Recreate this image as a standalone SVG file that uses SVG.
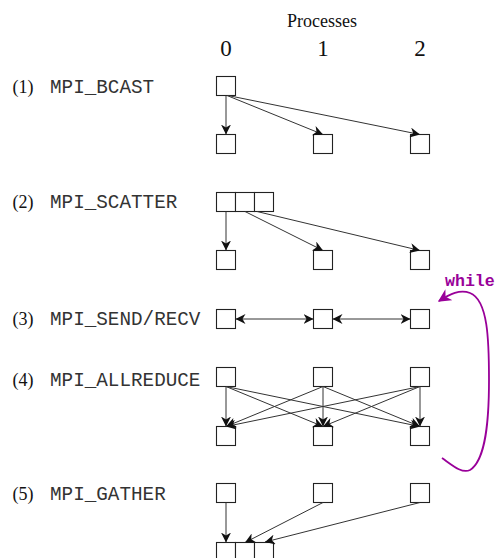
<svg xmlns="http://www.w3.org/2000/svg" width="496" height="558" viewBox="0 0 496 558">
<style>
.box{fill:#fff;stroke:#222;stroke-width:1.1}
.ser{font-family:"Liberation Serif","Times New Roman",serif;fill:#111}
.mono{font-family:"Liberation Mono","Courier New",monospace;font-size:19.3px;fill:#333}
.lbl{font-size:18px}
.e{fill:none;stroke:#333;stroke-width:1;marker-end:url(#ah)}
.d{marker-start:url(#ahs)}
</style>
<defs>
<marker id="ah" viewBox="0 0 10 10" refX="10" refY="5" markerWidth="10" markerHeight="10" markerUnits="userSpaceOnUse" orient="auto"><path d="M0,0 L10,5 L0,10 L3,5 z" fill="#111"/></marker>
<marker id="ahs" viewBox="0 0 10 10" refX="10" refY="5" markerWidth="10" markerHeight="10" markerUnits="userSpaceOnUse" orient="auto-start-reverse"><path d="M0,0 L10,5 L0,10 L3,5 z" fill="#111"/></marker>
<marker id="ahp" viewBox="0 0 10 10" refX="9" refY="5" markerWidth="13" markerHeight="13" markerUnits="userSpaceOnUse" orient="auto"><path d="M0,0 L10,5 L0,10 L3,5 z" fill="#990099"/></marker>
</defs>

<g id="header">
<text class="ser" x="322" y="27" font-size="18" text-anchor="middle">Processes</text>
<text class="ser" x="226" y="55.5" font-size="23" text-anchor="middle">0</text>
<text class="ser" x="323" y="55.5" font-size="23" text-anchor="middle">1</text>
<text class="ser" x="420" y="55.5" font-size="23" text-anchor="middle">2</text>
</g>

<g id="labels">
<text class="ser lbl" x="12.5" y="93">(1)</text><text class="mono" x="50" y="93">MPI_BCAST</text>
<text class="ser lbl" x="12.5" y="208">(2)</text><text class="mono" x="50" y="208">MPI_SCATTER</text>
<text class="ser lbl" x="12.5" y="325">(3)</text><text class="mono" x="50" y="325">MPI_SEND/RECV</text>
<text class="ser lbl" x="12.5" y="386">(4)</text><text class="mono" x="50" y="386">MPI_ALLREDUCE</text>
<text class="ser lbl" x="12.5" y="500">(5)</text><text class="mono" x="50" y="500">MPI_GATHER</text>
</g>

<g id="bcast-src"><rect class="box" x="216.5" y="76.5" width="19" height="19"/></g>
<g id="bcast-0"><rect class="box" x="216.5" y="134.5" width="19" height="19"/></g>
<g id="bcast-1"><rect class="box" x="313.5" y="134.5" width="19" height="19"/></g>
<g id="bcast-2"><rect class="box" x="410.5" y="134.5" width="19" height="19"/></g>

<g id="scatter-src"><rect class="box" x="216.5" y="192.5" width="19" height="19"/><rect class="box" x="235.5" y="192.5" width="19" height="19"/><rect class="box" x="254.5" y="192.5" width="19" height="19"/></g>
<g id="scatter-0"><rect class="box" x="216.5" y="250.5" width="19" height="19"/></g>
<g id="scatter-1"><rect class="box" x="313.5" y="250.5" width="19" height="19"/></g>
<g id="scatter-2"><rect class="box" x="410.5" y="250.5" width="19" height="19"/></g>

<g id="sendrecv-0"><rect class="box" x="216.5" y="309.5" width="19" height="19"/></g>
<g id="sendrecv-1"><rect class="box" x="313.5" y="309.5" width="19" height="19"/></g>
<g id="sendrecv-2"><rect class="box" x="410.5" y="309.5" width="19" height="19"/></g>

<g id="allreduce-in-0"><rect class="box" x="216.5" y="367.5" width="19" height="19"/></g>
<g id="allreduce-in-1"><rect class="box" x="313.5" y="367.5" width="19" height="19"/></g>
<g id="allreduce-in-2"><rect class="box" x="410.5" y="367.5" width="19" height="19"/></g>
<g id="allreduce-out-0"><rect class="box" x="216.5" y="426.5" width="19" height="19"/></g>
<g id="allreduce-out-1"><rect class="box" x="313.5" y="426.5" width="19" height="19"/></g>
<g id="allreduce-out-2"><rect class="box" x="410.5" y="426.5" width="19" height="19"/></g>

<g id="gather-0"><rect class="box" x="216.5" y="483.5" width="19" height="19"/></g>
<g id="gather-1"><rect class="box" x="313.5" y="483.5" width="19" height="19"/></g>
<g id="gather-2"><rect class="box" x="410.5" y="483.5" width="19" height="19"/></g>
<g id="gather-dst"><rect class="box" x="216.5" y="542.5" width="19" height="19"/><rect class="box" x="235.5" y="542.5" width="19" height="19"/><rect class="box" x="254.5" y="542.5" width="19" height="19"/></g>

<g id="while-label"><text x="445" y="286" font-family="'Liberation Mono','Courier New',monospace" font-weight="bold" font-size="16.6" fill="#990099">while</text></g>

<g id="connectors">
<path class="e" d="M226 95.5 L226 134.5"/>
<path class="e" d="M227 95.5 L323 134.5"/>
<path class="e" d="M228 95.5 L420 134.5"/>

<path class="e" d="M226 211.5 L226 250.5"/>
<path class="e" d="M245 211.5 L323 250.5"/>
<path class="e" d="M257 211.5 L420 250.5"/>

<path class="e d" d="M235.5 319 L313.5 319"/>
<path class="e d" d="M332.5 319 L410.5 319"/>

<path class="e" d="M226 386.5 L226 426.5"/>
<path class="e" d="M226 386.5 L323 426.5"/>
<path class="e" d="M226 386.5 L420 426.5"/>
<path class="e" d="M323 386.5 L226 426.5"/>
<path class="e" d="M323 386.5 L323 426.5"/>
<path class="e" d="M323 386.5 L420 426.5"/>
<path class="e" d="M420 386.5 L226 426.5"/>
<path class="e" d="M420 386.5 L323 426.5"/>
<path class="e" d="M420 386.5 L420 426.5"/>

<path class="e" d="M226 502.5 L226 542.5"/>
<path class="e" d="M323 502.5 L245 542.5"/>
<path class="e" d="M420 502.5 L265 542"/>

<path d="M442 458 C452 465 462 474 470 470 C486 460 489 420 489 380 C489 340 488 300 470 293 C460 289 450 294 439 301" fill="none" stroke="#990099" stroke-width="1.8" marker-end="url(#ahp)"/>
</g>
</svg>
